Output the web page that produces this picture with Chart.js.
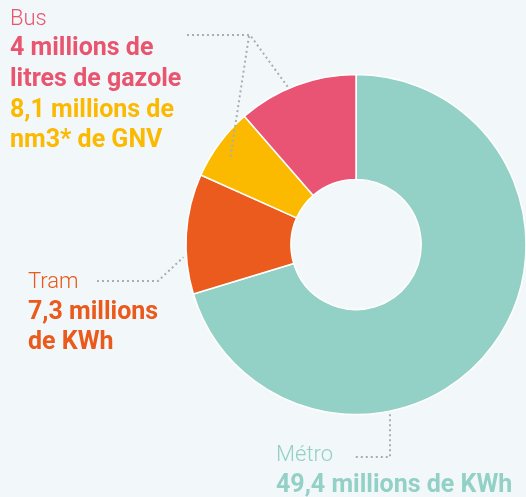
<!DOCTYPE html>
<html><head><meta charset="utf-8">
<script src="https://cdn.jsdelivr.net/npm/chart.js@4"></script>
<style>
html,body{margin:0;padding:0;background:#f2f7fa;}
#wrap{position:relative;width:526px;height:497px;overflow:hidden;background:#f2f7fa;}
canvas{position:absolute;left:0;top:0;}
.t{position:absolute;white-space:nowrap;font-family:Roboto,"DejaVu Sans",sans-serif;line-height:1;margin:0;}
.lt{font-weight:300;font-size:22px;}
.bd{font-weight:700;font-size:25px;}
</style></head><body>
<div id="wrap"><canvas id="c" width="526" height="497"></canvas>
<div class="t lt" style="left:10px;top:6.5px;color:#e9546f">Bus</div>
<div class="t bd" style="left:10px;top:34px;color:#e9546f">4 millions de</div>
<div class="t bd" style="left:10px;top:65px;color:#e9546f">litres de gazole</div>
<div class="t bd" style="left:10px;top:96px;color:#fbb900">8,1 millions de</div>
<div class="t bd" style="left:10px;top:126px;color:#fbb900">nm3* de GNV</div>
<div class="t lt" style="left:28px;top:269.5px;color:#e95a1c">Tram</div>
<div class="t bd" style="left:28px;top:298px;color:#e95a1c">7,3 millions</div>
<div class="t bd" style="left:28px;top:328px;color:#e95a1c">de KWh</div>
<div class="t lt" style="left:276px;top:443px;color:#93d0c6">Métro</div>
<div class="t bd" style="left:276px;top:470.5px;color:#93d0c6">49,4 millions de KWh</div>
</div>
<script>
const categories = ['Métro', 'Tram', 'Bus (GNV)', 'Bus (gazole)'];
const shares = [70.3, 11.4, 6.9, 11.4];
const sliceColors = ['#93d0c5', '#eb5b1e', '#fbb900', '#e95374'];

const leaders = [
  {slice: 3, frac: 0.43, dr: 1.5, path: [[187,35],[250,35]], mode: 'to'},
  {slice: 2, frac: 0.40, dr: -18, path: [[249,36]], mode: 'to'},
  {slice: 1, frac: 0.31, dr: 3, path: [[97,281],[158,281]], mode: 'to'},
  {slice: 0, frac: 0.667, dr: 3, path: [[355,457]], mode: 'from', elbowY: 457}
];

const leaderPlugin = {
  id: 'leaders',
  afterDatasetsDraw(chart) {
    const ctx = chart.ctx;
    const meta = chart.getDatasetMeta(0);
    ctx.save();
    ctx.strokeStyle = '#a8aeb2';
    ctx.lineWidth = 2;
    ctx.setLineDash([2, 3]);
    leaders.forEach(l => {
      const arc = meta.data[l.slice];
      const p = arc.getProps(['x','y','startAngle','endAngle','outerRadius'], true);
      const a = p.startAngle + l.frac * (p.endAngle - p.startAngle);
      const ex = p.x + Math.cos(a) * (p.outerRadius + l.dr);
      const ey = p.y + Math.sin(a) * (p.outerRadius + l.dr);
      ctx.beginPath();
      if (l.mode === 'to') {
        ctx.moveTo(l.path[0][0], l.path[0][1]);
        for (let i = 1; i < l.path.length; i++) ctx.lineTo(l.path[i][0], l.path[i][1]);
        ctx.lineTo(ex, ey);
      } else {
        ctx.moveTo(Math.round(ex), ey);
        ctx.lineTo(Math.round(ex), l.elbowY);
        l.path.forEach(pt => ctx.lineTo(pt[0], pt[1]));
      }
      ctx.stroke();
    });
    ctx.restore();
  }
};

new Chart(document.getElementById('c'), {
  type: 'doughnut',
  data: {
    labels: categories,
    datasets: [{
      data: shares,
      backgroundColor: sliceColors,
      borderColor: '#ffffff',
      borderWidth: 1.5,
      hoverOffset: 0
    }]
  },
  options: {
    responsive: false,
    animation: false,
    events: [],
    radius: 170,
    cutout: '38.3%',
    layout: {padding: {left: 186, right: 0, top: 70, bottom: 78}},
    plugins: {legend: {display: false}, tooltip: {enabled: false}}
  },
  plugins: [leaderPlugin]
});
</script>
</body></html>
